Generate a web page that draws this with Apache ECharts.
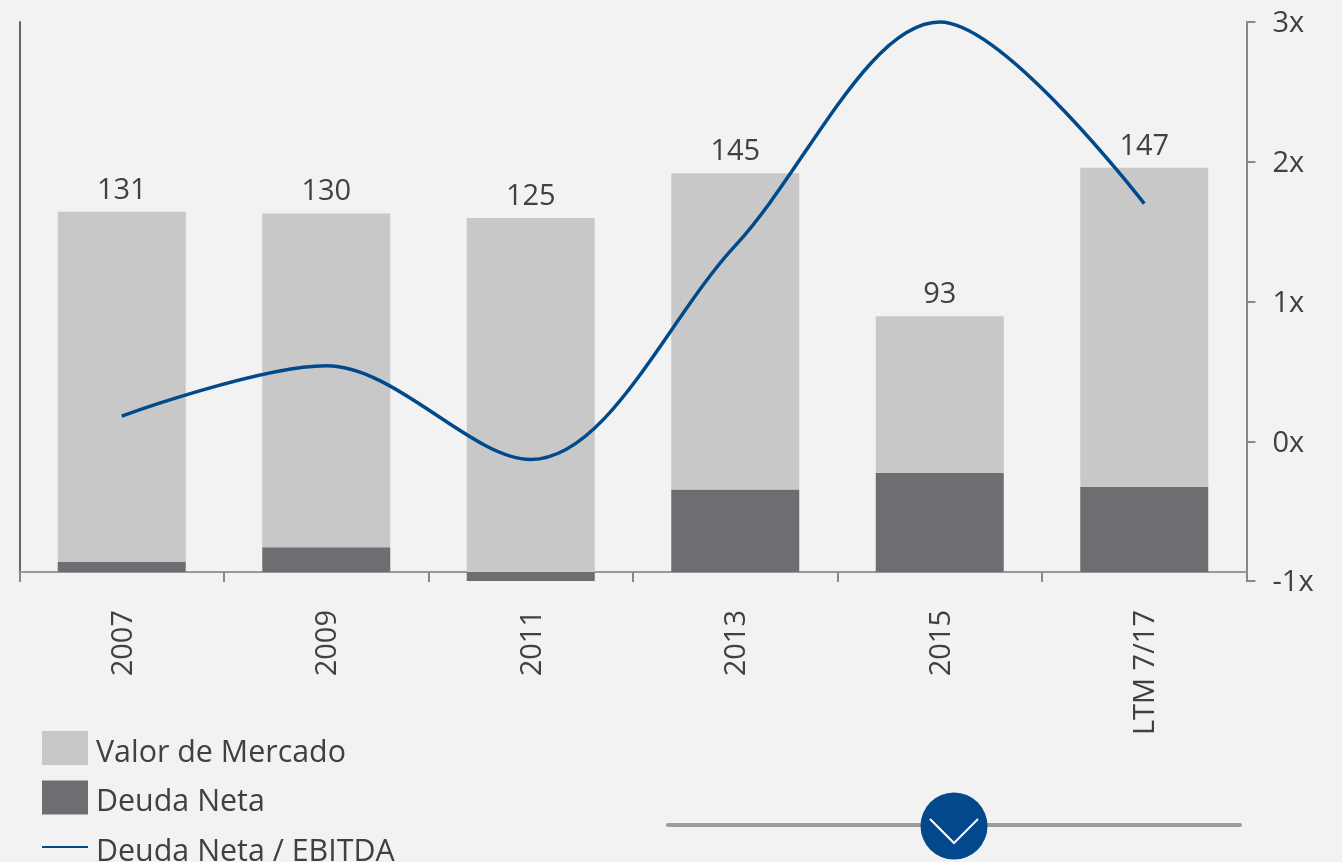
<!DOCTYPE html>
<html style="height: 100%">
<head>
<meta charset="utf-8">
<script src="https://cdn.jsdelivr.net/npm/echarts@6/dist/echarts.min.js"></script>
</head>
<body style="width: 100%; height: 100%; margin: 0; background: #f2f2f2">
<div id="main" style="width: 1342px; height: 862px;"></div>
<script type="text/javascript">
var categories = ['2007', '2009', '2011', '2013', '2015', 'LTM 7/17'];
var valorMercado = [127.4, 121.4, 128.7, 115, 57, 116];
var deudaNeta = [3.6, 9, -3.4, 30, 36, 31];
var totales = [131, 130, 125, 145, 93, 147];
var deudaEbitda = [0.18, 0.54, -0.13, 1.4, 3.0, 1.7];
var rightTicks = [-1, 0, 1, 2, 3];

var FONT = '"Open Sans"';
var TEXT = '#404040';

var myChart = echarts.init(document.getElementById('main'));
var option = {
    backgroundColor: '#f2f2f2',
    animation: false,
    grid: { left: 19.5, right: 95.5, top: 22, bottom: 281 },
    legend: {
        orient: 'vertical',
        left: 42,
        top: 728,
        height: 400,
        padding: 0,
        itemWidth: 46,
        itemHeight: 34,
        itemGap: 9.5,
        selectedMode: false,
        formatter: '{a|{name}}',
        textStyle: {
            rich: {
                // el padding de arriba baja el texto respecto al icono
                a: { fontFamily: FONT, fontSize: 30.4, lineHeight: 24, color: TEXT, padding: [10, 0, 0, 3] }
            }
        },
        data: [
            { name: 'Valor de Mercado', icon: 'rect' },
            { name: 'Deuda Neta', icon: 'rect' },
            { name: 'Deuda Neta / EBITDA', icon: 'path://M0 0H46V2H0Z' }
        ]
    },
    xAxis: {
        type: 'category',
        data: categories,
        axisLine: { onZero: true, lineStyle: { color: '#999999', width: 2 } },
        axisTick: { show: true, interval: 0, length: 10, lineStyle: { color: '#888888', width: 2 } },
        axisLabel: {
            rotate: 90,
            interval: 0,
            margin: 29,
            fontFamily: FONT,
            fontSize: 29,
            color: TEXT,
            verticalAlign: 'top',
            lineHeight: 3
        }
    },
    yAxis: [
        {
            type: 'value',
            min: -3.27,
            max: 200,
            axisLine: { show: true, onZero: false, lineStyle: { color: '#666666', width: 2 } },
            axisTick: { show: false },
            axisLabel: { show: false },
            splitLine: { show: false }
        },
        {
            type: 'value',
            min: rightTicks[0],
            max: rightTicks[rightTicks.length - 1],
            interval: 1,
            position: 'right',
            axisLine: { show: true, onZero: false, lineStyle: { color: '#888888', width: 2 } },
            axisTick: { show: true, inside: false, length: 9, lineStyle: { color: '#888888', width: 2 } },
            axisLabel: {
                margin: 26,
                fontFamily: FONT,
                fontSize: 29,
                color: TEXT,
                verticalAlign: 'top',
                lineHeight: 4,
                formatter: '{value}x'
            },
            splitLine: { show: false }
        }
    ],
    series: [
        {
            name: 'Deuda Neta',
            type: 'bar',
            stack: 'total',
            barWidth: 128,
            itemStyle: { color: '#6d6e71' },
            data: deudaNeta
        },
        {
            name: 'Valor de Mercado',
            type: 'bar',
            stack: 'total',
            barWidth: 128,
            itemStyle: { color: '#c8c8c8' },
            label: {
                show: true,
                position: 'top',
                distance: 7,
                fontFamily: FONT,
                fontSize: 29,
                color: TEXT,
                formatter: function (p) { return totales[p.dataIndex]; }
            },
            data: valorMercado
        },
        {
            name: 'Deuda Neta / EBITDA',
            type: 'line',
            yAxisIndex: 1,
            smooth: 0.33,
            symbol: 'none',
            clip: false,
            z: 5,
            lineStyle: { color: '#004a8c', width: 3.5 },
            itemStyle: { color: '#004a8c' },
            data: deudaEbitda
        }
    ],
    // slider decorativo de abajo
    graphic: [
        {
            type: 'line',
            shape: { x1: 668, y1: 825, x2: 1240, y2: 825 },
            style: { stroke: '#9c9c9c', lineWidth: 4, lineCap: 'round' }
        },
        {
            type: 'circle',
            shape: { cx: 954, cy: 826, r: 33.5 },
            style: { fill: '#03488c' }
        },
        {
            type: 'polyline',
            shape: { points: [[930, 819], [954, 843], [978, 819]] },
            style: { stroke: '#ffffff', lineWidth: 2, fill: null }
        }
    ]
};
myChart.setOption(option);
</script>
</body>
</html>
